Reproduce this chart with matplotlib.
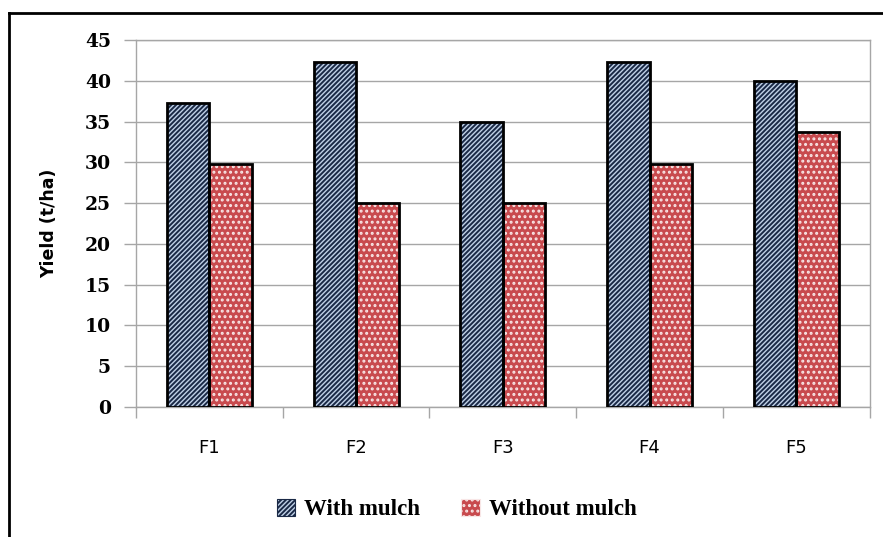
import matplotlib
matplotlib.use("Agg")
import matplotlib.pyplot as plt
from matplotlib.patches import Patch
from matplotlib.lines import Line2D
import numpy as np

categories = ["F1", "F2", "F3", "F4", "F5"]
with_mulch = [37.3, 42.3, 34.9, 42.3, 40.0]
without_mulch = [29.8, 25.0, 25.0, 29.8, 33.7]
y_ticks = [0, 5, 10, 15, 20, 25, 30, 35, 40, 45]

plt.rcParams["hatch.linewidth"] = 1.4

fig = plt.figure(figsize=(8.83, 5.37), dpi=100)
ax = fig.add_axes([0.154, 0.242, 0.831, 0.6835])

x = np.arange(len(categories))
w = 0.29
grid_col = "#a6a6a6"

blue_face = "#bfd0e6"
blue_hatch = "#1a2946"
red_face = "#c84a4e"
red_dots = "#f8e6e6"

# hatched fills
ax.bar(x - w / 2, with_mulch, w, facecolor=blue_face, edgecolor=blue_hatch,
       hatch="///////", linewidth=0, zorder=3)
ax.bar(x + w / 2, without_mulch, w, facecolor=red_face, edgecolor=red_dots,
       hatch="...", linewidth=0, zorder=3)
# black outlines
ax.bar(x - w / 2, with_mulch, w, fill=False, edgecolor="black", linewidth=2, zorder=4)
ax.bar(x + w / 2, without_mulch, w, fill=False, edgecolor="black", linewidth=2, zorder=4)

ax.set_xlim(-0.5, len(categories) - 0.5)
ax.set_ylim(0, 45)
ax.set_yticks(y_ticks)
ax.set_yticklabels([str(t) for t in y_ticks], fontfamily="DejaVu Serif",
                   fontweight="bold", fontsize=13.5)
ax.set_xticks(x)
ax.set_xticklabels(categories, fontfamily="DejaVu Sans", fontsize=13)
ax.set_xticks(np.arange(-0.5, len(categories)), minor=True)
ax.tick_params(axis="x", which="major", length=0, pad=23)
ax.tick_params(axis="x", which="minor", length=8, color=grid_col, width=1)
ax.tick_params(axis="y", length=9, color=grid_col, width=1, pad=9)

ax.yaxis.grid(True, color=grid_col, linewidth=1, zorder=0)
ax.set_axisbelow(True)
for s in ax.spines.values():
    s.set_color(grid_col)
    s.set_linewidth(1)

ax.set_ylabel("Yield (t/ha)", fontfamily="DejaVu Sans", fontweight="bold",
              fontsize=12.5, labelpad=19)

handles = [
    Patch(facecolor=blue_face, edgecolor=blue_hatch, hatch="///////", linewidth=0.8),
    Patch(facecolor=red_face, edgecolor=red_dots, hatch="...", linewidth=0.8),
]
fig.legend(handles, ["With mulch", "Without mulch"], loc="center",
           bbox_to_anchor=(0.517, 0.051), ncol=2, frameon=False,
           prop={"family": "Liberation Serif", "weight": "bold", "size": 16.5},
           handlelength=0.8, handleheight=0.8, handletextpad=0.4, columnspacing=1.8)

# outer frame on top and left
fig.add_artist(Line2D([9 / 883, 1.0], [1 - 13 / 537, 1 - 13 / 537],
                      color="black", linewidth=2, transform=fig.transFigure))
fig.add_artist(Line2D([9 / 883, 9 / 883], [0.0, 1 - 13 / 537],
                      color="black", linewidth=2, transform=fig.transFigure))

fig.savefig("out.png", dpi=100)
